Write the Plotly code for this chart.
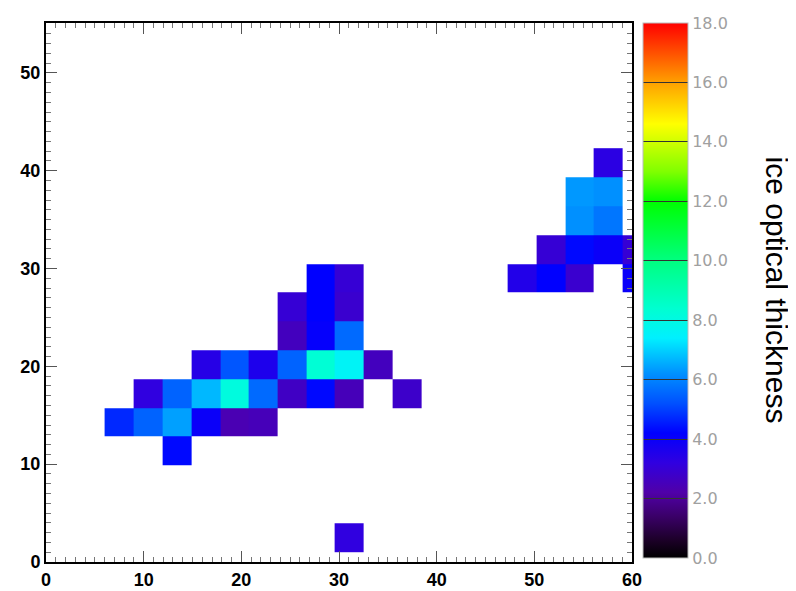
import plotly.graph_objects as go

# grid cell centres (data units)
x_grid = [7.5, 10.5, 13.4, 16.4, 19.3, 22.2, 25.2, 28.1, 31.1, 34.0, 37.0,
          39.9, 42.9, 45.8, 48.8, 51.7, 54.6, 57.6, 60.5]
y_grid = [2.5, 5.5, 8.4, 11.4, 14.3, 17.2, 20.2, 23.1, 26.1, 29.0, 31.9,
          34.9, 37.8, 40.8]

# occupied cells: centre x, centre y, ice optical thickness
cell_x = [28.1, 31.1,
          25.2, 28.1, 31.1,
          25.2, 28.1, 31.1,
          16.4, 19.3, 22.2, 25.2, 28.1, 31.1, 34.0,
          10.5, 13.4, 16.4, 19.3, 22.2, 25.2, 28.1, 31.1, 37.0,
          7.5, 10.5, 13.4, 16.4, 19.3, 22.2,
          13.4,
          31.1,
          57.6,
          54.6, 57.6,
          54.6, 57.6,
          51.7, 54.6, 57.6, 60.5,
          48.8, 51.7, 54.6, 60.5]
cell_y = [29.0, 29.0,
          26.1, 26.1, 26.1,
          23.1, 23.1, 23.1,
          20.2, 20.2, 20.2, 20.2, 20.2, 20.2, 20.2,
          17.2, 17.2, 17.2, 17.2, 17.2, 17.2, 17.2, 17.2, 17.2,
          14.3, 14.3, 14.3, 14.3, 14.3, 14.3,
          11.4,
          2.5,
          40.8,
          37.8, 37.8,
          34.9, 34.9,
          31.9, 31.9, 31.9, 31.9,
          29.0, 29.0, 29.0, 29.0]
cell_val = [4.2, 3.0,
            3.0, 4.2, 2.9,
            2.6, 4.1, 5.6,
            3.4, 5.3, 3.6, 5.5, 8.3, 7.6, 2.6,
            3.2, 5.5, 6.7, 8.1, 5.6, 2.7, 4.3, 2.5, 2.8,
            4.7, 5.5, 6.4, 4.0, 2.4, 2.5,
            4.3,
            3.2,
            3.3,
            6.3, 6.2,
            6.2, 5.8,
            3.0, 4.3, 4.0, 3.0,
            3.5, 4.2, 2.9, 4.0]

# colour bar
cb_ticks = [0, 2, 4, 6, 8, 10, 12, 14, 16, 18]
cb_labels = ["0.0", "2.0", "4.0", "6.0", "8.0", "10.0", "12.0", "14.0", "16.0", "18.0"]
x_ticks = [0, 10, 20, 30, 40, 50, 60]
y_ticks = [0, 10, 20, 30, 40, 50]

# build the grid matrix from the cell lists
z = [[None for _ in x_grid] for _ in y_grid]
for cx, cy, v in zip(cell_x, cell_y, cell_val):
    z[y_grid.index(cy)][x_grid.index(cx)] = v

vmax = 18.0
stops = [(0.0, "#000000"), (0.6, "#1c0028"), (1.4, "#3a0068"), (2.2, "#5000a8"),
         (3.2, "#3000e0"), (4.2, "#0000ff"), (5.2, "#0050ff"), (6.2, "#0090ff"),
         (7.4, "#00f0ff"), (8.4, "#00ffd0"), (10.0, "#00ff80"), (12.0, "#00ff00"),
         (13.0, "#80ff00"), (14.6, "#ffff00"), (16.0, "#ffa000"), (17.0, "#ff5000"),
         (18.0, "#ff0000")]
colorscale = [[v / vmax, c] for v, c in stops]

fig = go.Figure()
fig.add_trace(go.Heatmap(
    x=x_grid, y=y_grid, z=z, zmin=0, zmax=vmax,
    colorscale=colorscale, hoverongaps=False,
    colorbar=dict(
        thickness=45, thicknessmode="pixels",
        len=535, lenmode="pixels",
        x=1.018, xanchor="left", xpad=0,
        y=1.0, yanchor="top", ypad=0,
        tickvals=cb_ticks, ticktext=cb_labels,
        ticks="inside", ticklen=45, tickcolor="#333333", tickwidth=1,
        tickfont=dict(family="DejaVu Sans", size=16, color="#a0a0a0"),
        outlinecolor="#bbbbbb", outlinewidth=1,
    ),
))

axis_common = dict(
    showline=True, linecolor="black", linewidth=2, mirror="ticks",
    ticks="inside", ticklen=11, tickwidth=1, tickcolor="#555555",
    showgrid=False, zeroline=False, automargin=False,
    tickfont=dict(family="Liberation Sans", size=18, color="black", weight="bold"),
    minor=dict(dtick=1, ticks="inside", ticklen=5, tickcolor="#777777", tickwidth=1),
)

fig.update_layout(
    width=796, height=591,
    margin=dict(l=38, r=172, t=15, b=37, autoexpand=False),
    paper_bgcolor="white", plot_bgcolor="white",
    xaxis=dict(range=[0, 60], tickvals=x_ticks, **axis_common),
    yaxis=dict(range=[0, 55.1], tickvals=y_ticks, **axis_common),
    annotations=[dict(
        text="ice optical thickness", textangle=90,
        xref="paper", yref="paper", x=1.247, y=0.504,
        showarrow=False, xanchor="center", yanchor="middle",
        font=dict(family="Liberation Sans", size=30, color="black"),
    )],
)

fig.write_html("out.html")
